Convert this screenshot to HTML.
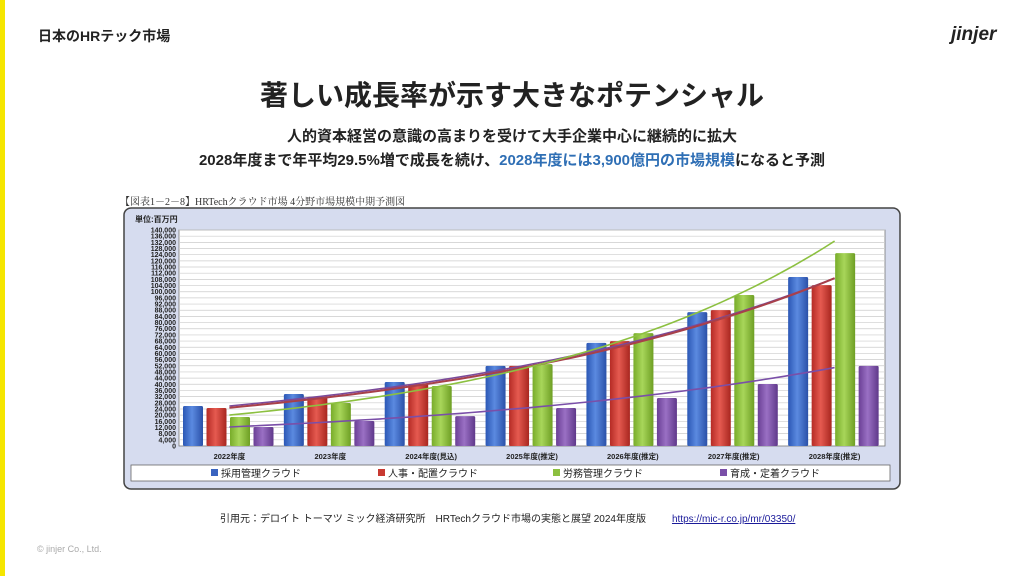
<!DOCTYPE html>
<html><head><meta charset="utf-8">
<style>
body{margin:0;width:1024px;height:576px;background:#fff;position:relative;overflow:hidden;font-family:"Liberation Sans","Noto Sans CJK JP",sans-serif;}
.abs{position:absolute;}
</style></head>
<body>
<div class="abs" style="left:0;top:0;width:5px;height:576px;background:#f5e600"></div>
<div class="abs" style="left:38px;top:26px;font-size:14px;font-weight:bold;color:#222">日本のHRテック市場</div>
<div class="abs" style="left:951px;top:24px;font-size:19px;font-weight:bold;font-style:italic;color:#222">jinjer</div>
<div class="abs" style="left:0;width:1024px;top:74px;text-align:center;font-size:28px;font-weight:bold;color:#222">著しい成長率が示す大きなポテンシャル</div>
<div class="abs" style="left:0;width:1024px;top:125px;text-align:center;font-size:15px;font-weight:bold;color:#222">人的資本経営の意識の高まりを受けて大手企業中心に継続的に拡大</div>
<div class="abs" style="left:0;width:1024px;top:149px;text-align:center;font-size:15px;font-weight:bold;color:#222">2028年度まで年平均29.5%増で成長を続け、<span style="color:#2f6fb5">2028年度には3,900億円の市場規模</span>になると予測</div>
<div class="abs" style="left:120px;top:193px;font-size:10px;font-family:'Liberation Serif','Noto Serif CJK SC',serif;color:#333">【図表1－2－8】HRTechクラウド市場 4分野市場規模中期予測図</div>
<svg class="abs" style="left:0;top:0" width="1024" height="576">
<defs>
<linearGradient id="gb" x1="0" x2="1"><stop offset="0" stop-color="#2b57b5"/><stop offset="0.45" stop-color="#5b8ae0"/><stop offset="1" stop-color="#2a50a8"/></linearGradient>
<linearGradient id="gr" x1="0" x2="1"><stop offset="0" stop-color="#b52b25"/><stop offset="0.45" stop-color="#e55a50"/><stop offset="1" stop-color="#a8261f"/></linearGradient>
<linearGradient id="gg" x1="0" x2="1"><stop offset="0" stop-color="#78ac2a"/><stop offset="0.45" stop-color="#a8d65a"/><stop offset="1" stop-color="#6e9f24"/></linearGradient>
<linearGradient id="gp" x1="0" x2="1"><stop offset="0" stop-color="#6a3f95"/><stop offset="0.45" stop-color="#9a70c4"/><stop offset="1" stop-color="#5f388a"/></linearGradient>
</defs>
<rect x="124" y="208" width="776" height="281" rx="7" fill="#d6dcef" stroke="#444" stroke-width="1.5"/>
<rect x="179" y="230" width="706" height="216" fill="#fff" stroke="#777" stroke-width="0.8"/>
<text x="135" y="222" font-size="8" font-weight="bold" fill="#222">単位:百万円</text>
<g id="grid"></g><g id="yt"></g><g id="bars"></g><g id="trends"></g><g id="xl"></g>
<rect x="131" y="465" width="759" height="16" fill="#fff" stroke="#666" stroke-width="0.8"/>
<g><rect x="211" y="469" width="7" height="7" fill="#3a64c0"/><text x="221" y="477" font-size="10" fill="#222">採用管理クラウド</text></g>
<g><rect x="378" y="469" width="7" height="7" fill="#c83a32"/><text x="388" y="477" font-size="10" fill="#222">人事・配置クラウド</text></g>
<g><rect x="553" y="469" width="7" height="7" fill="#8cc040"/><text x="563" y="477" font-size="10" fill="#222">労務管理クラウド</text></g>
<g><rect x="720" y="469" width="7" height="7" fill="#7a4fa8"/><text x="730" y="477" font-size="10" fill="#222">育成・定着クラウド</text></g>
</svg>
<div class="abs" style="left:220px;top:510px;font-size:10px;color:#222">引用元：デロイト トーマツ ミック経済研究所　HRTechクラウド市場の実態と展望 2024年度版　　<span style="color:#1a1a9a;text-decoration:underline;margin-left:6px">https://mic-r.co.jp/mr/03350/</span></div>
<div class="abs" style="left:37px;top:544px;font-size:9px;color:#aaa">© jinjer Co., Ltd.</div>
<script>
const categories=["2022年度","2023年度","2024年度(見込)","2025年度(推定)","2026年度(推定)","2027年度(推定)","2028年度(推定)"];
const recruit=[25900,33700,41500,51900,66800,86800,109500];
const hr=[24600,31800,40200,51900,68000,88100,104300];
const labor=[18800,27900,38900,53100,73200,97900,125000];
const training=[12300,16200,19400,24600,31100,40200,51900];
const yMax=140000, yStep=4000;
const X0=179,X1=885,Y0=446,Y1=230;
const NS="http://www.w3.org/2000/svg";
const cw=(X1-X0)/categories.length;
function y(v){return Y0-(v/yMax)*(Y0-Y1);}
function cx(i){return X0+cw*(i+0.5);}
function mk(tag,attrs,parent){const e=document.createElementNS(NS,tag);for(const k in attrs)e.setAttribute(k,attrs[k]);document.getElementById(parent).appendChild(e);return e;}
for(let v=0;v<=yMax;v+=yStep){
  if(v>0){const g=mk('line',{x1:X0,x2:X1,y1:y(v),y2:y(v),stroke:'#ccc','stroke-width':0.7},'grid');
  
  }
  const t=mk('text',{x:X0-3,y:y(v)+2.5,'font-size':7,'font-weight':'bold','text-anchor':'end',fill:'#222'},'yt');
  t.textContent=v.toLocaleString('en-US');
  
  
}
const series=[[recruit,'url(#gb)'],[hr,'url(#gr)'],[labor,'url(#gg)'],[training,'url(#gp)']];
const names=['recruit','hr','labor','training'];
series.forEach((s,si)=>{
  s[0].forEach((v,i)=>{
    const bx=X0+cw*i+4+si*23.5;
    const r=mk('rect',{x:bx,y:y(v),width:20,height:Y0-y(v),fill:s[1],rx:1.5},'bars');
    
    
  });
});
const trendColors=['#7a4a9a','#a8404a','#8cc040','#7a4fa8'];
series.forEach((s,si)=>{
  const d=s[0],n=d.length;let sx=0,sy=0,sxx=0,sxy=0;
  d.forEach((v,i)=>{const l=Math.log(v);sx+=i;sy+=l;sxx+=i*i;sxy+=i*l;});
  const b=(n*sxy-sx*sy)/(n*sxx-sx*sx),a=(sy-b*sx)/n;
  let p='';for(let t=0;t<=60;t++){const i=t/60*(n-1);p+=(t?'L':'M')+cx(i).toFixed(1)+','+y(Math.exp(a+b*i)).toFixed(1);}
  const e=mk('path',{d:p,fill:'none',stroke:trendColors[si],'stroke-width':si===1?2:1.6},'trends');
  
  
});
categories.forEach((c,i)=>{
  const t=mk('text',{x:cx(i),y:459,'font-size':7.5,'font-weight':'bold','text-anchor':'middle',fill:'#222'},'xl');
  t.textContent=c;
  
  
});
</script>
</body></html>
